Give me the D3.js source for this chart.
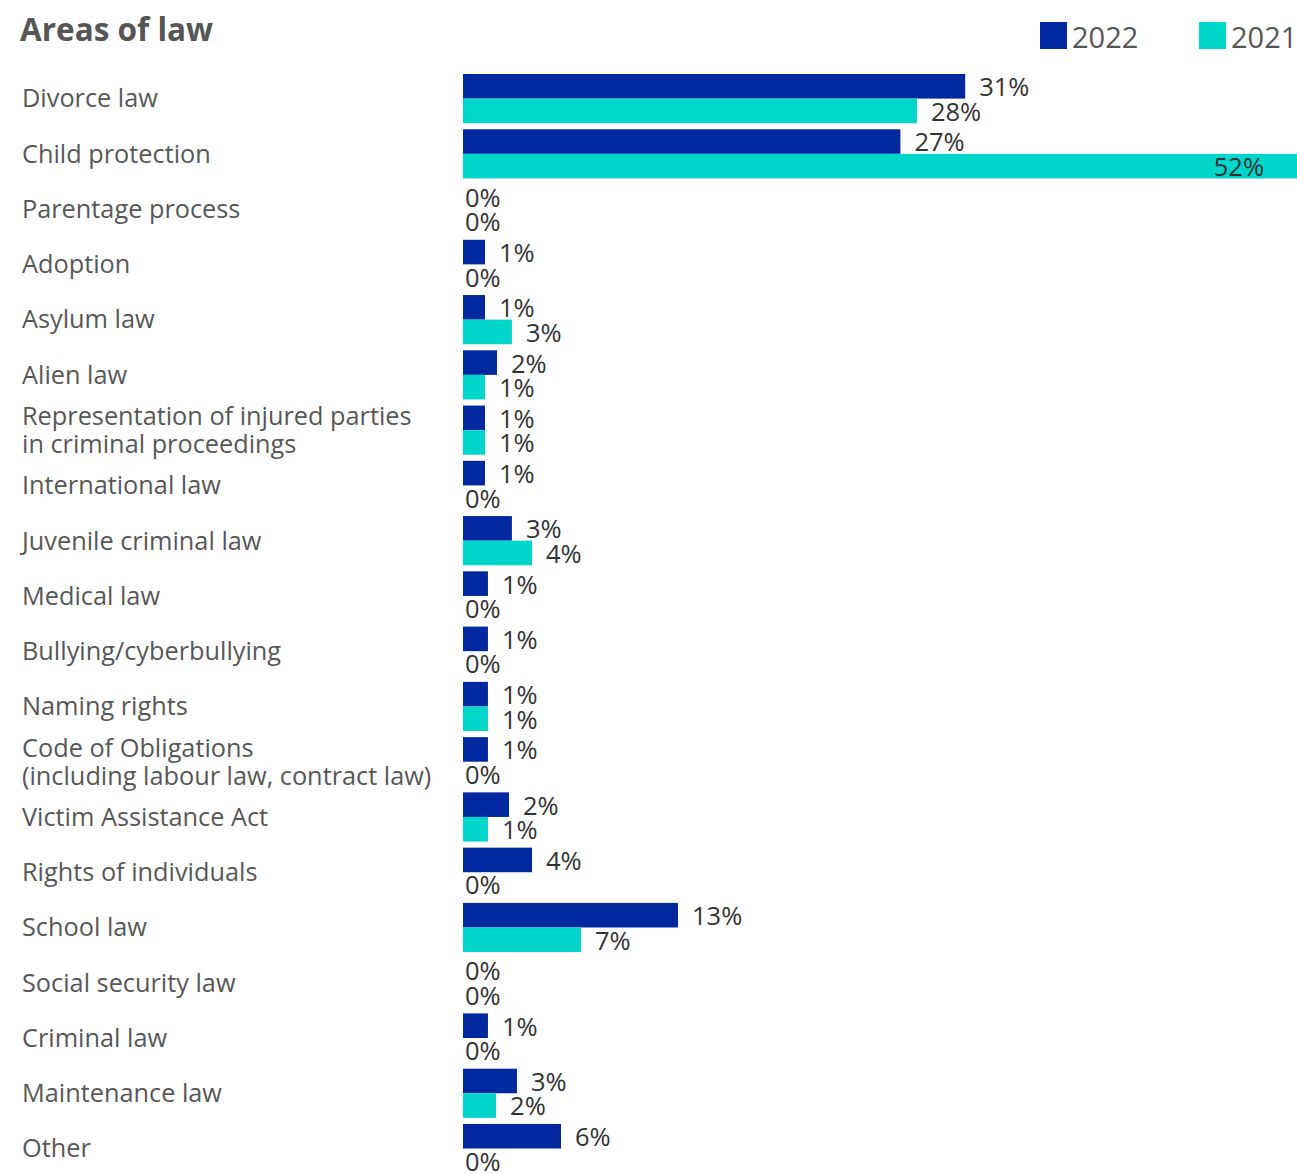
<!DOCTYPE html>
<html>
<head>
<meta charset="utf-8">
<script src="https://cdn.jsdelivr.net/npm/d3@7"></script>
<style>
  html, body { margin: 0; padding: 0; background: #fff; }
  svg { display: block; }
</style>
</head>
<body>
<svg id="chart" width="1297" height="1174"></svg>
<script>
// ---- data ----
const categories = [
  "Divorce law",
  "Child protection",
  "Parentage process",
  "Adoption",
  "Asylum law",
  "Alien law",
  "Representation of injured parties\nin criminal proceedings",
  "International law",
  "Juvenile criminal law",
  "Medical law",
  "Bullying/cyberbullying",
  "Naming rights",
  "Code of Obligations\n(including labour law, contract law)",
  "Victim Assistance Act",
  "Rights of individuals",
  "School law",
  "Social security law",
  "Criminal law",
  "Maintenance law",
  "Other"
];
const seriesNames = ["2022", "2021"];
const values2022 = [31.0, 27.0, 0, 1.36, 1.36, 2.1, 1.36, 1.36, 3.02, 1.54, 1.54, 1.54, 1.54, 2.84, 4.26, 13.27, 0, 1.54, 3.33, 6.05];
const values2021 = [28.02, 52.3, 0, 0, 3.02, 1.36, 1.36, 0, 4.26, 0, 0, 1.54, 0, 1.54, 0, 7.28, 0, 0, 2.04, 0];
const title = "Areas of law";

// ---- layout ----
const W = 1297, H = 1174;
const colors = { "2022": "#0029a0", "2021": "#00d6c9" };
const svg = d3.select("#chart");

const rows = categories.map((c, i) => ({ cat: c, vals: [
  { s: "2022", v: values2022[i] },
  { s: "2021", v: values2021[i] }
]}));

const y = d3.scaleBand().domain(categories).range([70.96, 70.96 + 20 * 55.26])
  .paddingInner(0.11).paddingOuter(0.055);
const ySub = d3.scaleBand().domain(seriesNames).range([0, y.bandwidth()]);
const x = d3.scaleLinear().domain([0, 50]).range([463, 463 + 810]);

// clip for bars
svg.append("defs").append("clipPath").attr("id", "clip")
  .append("rect").attr("x", 0).attr("y", 0).attr("width", W).attr("height", H);

// title
svg.append("text").attr("x", 20).attr("y", 41)
  .attr("font-family", "'Open Sans', sans-serif").attr("font-weight", 700)
  .attr("font-size", 31.5).attr("fill", "#555").text(title);

// legend
const leg = svg.append("g");
seriesNames.forEach((s, i) => {
  const lx = 1040 + i * 159;
  leg.append("rect").attr("x", lx).attr("y", 22).attr("width", 27).attr("height", 27).attr("fill", colors[s]);
  leg.append("text").attr("x", lx + 32).attr("y", 48)
    .attr("font-family", "'Open Sans', sans-serif").attr("font-size", 29).attr("fill", "#555").text(s);
});

// category labels
const catG = svg.append("g");
rows.forEach(r => {
  const lines = r.cat.split("\n");
  const cy = y(r.cat) + y.bandwidth() / 2;
  const lh = 28;
  const t = catG.append("text")
    .attr("font-family", "'Open Sans', sans-serif").attr("font-size", 25.3).attr("fill", "#575757");
  lines.forEach((ln, k) => {
    t.append("tspan").attr("x", 22)
      .attr("y", cy + (k - (lines.length - 1) / 2) * lh)
      .attr("dy", "0.35em").text(ln);
  });
});

// bars
const g = svg.append("g").attr("clip-path", "url(#clip)");
const groups = g.selectAll("g.row").data(rows).join("g")
  .attr("transform", d => `translate(0,${y(d.cat)})`);
groups.selectAll("rect").data(d => d.vals).join("rect")
  .attr("x", x(0))
  .attr("y", d => ySub(d.s))
  .attr("width", d => x(d.v) - x(0))
  .attr("height", ySub.bandwidth())
  .attr("fill", d => colors[d.s]);

// value labels
groups.selectAll("text").data(d => d.vals).join("text")
  .attr("font-family", "'Open Sans', sans-serif").attr("font-size", 25.5).attr("fill", "#333")
  .attr("y", d => ySub(d.s) + ySub.bandwidth() / 2 + 1)
  .attr("dy", "0.35em")
  .text(d => Math.floor(d.v) + "%")
  .each(function(d) {
    const el = d3.select(this);
    const w = this.getComputedTextLength();
    let tx = d.v > 0 ? x(d.v) + 14 : x(0) + 2;
    if (tx + w > W - 30) {
      el.attr("text-anchor", "end");
      tx = W - 33;
    }
    el.attr("x", tx);
  });
</script>
</body>
</html>
